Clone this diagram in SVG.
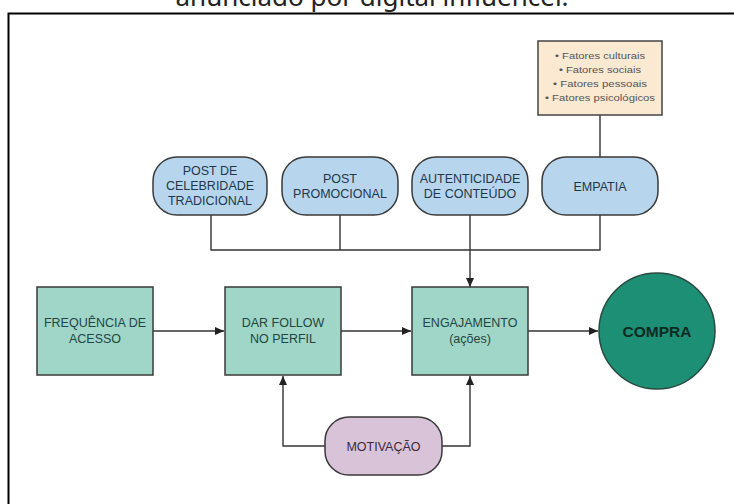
<svg xmlns="http://www.w3.org/2000/svg" width="734" height="504" viewBox="0 0 734 504">
<style>
.lbl{font-family:"Liberation Sans",Arial,sans-serif;font-size:12.5px;text-anchor:middle}
.blue{fill:#b7d6ee;stroke:#3a3a3a;stroke-width:1.5}
.green{fill:#9fd6c7;stroke:#3a3a3a;stroke-width:1.5}
.btxt{fill:#22364a}
.gtxt{fill:#234543}
.conn{fill:none;stroke:#333;stroke-width:1.4}
.fac{font-family:"Liberation Sans",Arial,sans-serif;font-size:9px;text-anchor:middle;fill:#555}
</style>
<defs>
<marker id="arr" markerWidth="10" markerHeight="8" refX="9" refY="4" orient="auto" markerUnits="userSpaceOnUse">
<path d="M0,0 L9,4 L0,8 Z" fill="#222"/>
</marker>
</defs>
<rect width="734" height="504" fill="#ffffff"/>
<text x="372" y="6" font-family="'Noto Sans','Open Sans',sans-serif" font-size="26" text-anchor="middle" fill="#222">anunciado por digital influencer.</text>
<rect x="8.5" y="13.5" width="760" height="540" fill="none" stroke="#000" stroke-width="2"/>

<g id="connectors">
<path class="conn" d="M600 115 V157"/>
<path class="conn" d="M211 215 V250 H600 V215"/>
<path class="conn" d="M340 215 V250"/>
<path class="conn" d="M470 215 V287" marker-end="url(#arr)"/>
<path class="conn" d="M153 331 H224" marker-end="url(#arr)"/>
<path class="conn" d="M341 331 H411" marker-end="url(#arr)"/>
<path class="conn" d="M528 331 H598" marker-end="url(#arr)"/>
<path class="conn" d="M325 446 H283 V376" marker-end="url(#arr)"/>
<path class="conn" d="M442 446 H470 V376" marker-end="url(#arr)"/>
</g>

<g id="fatores">
<rect x="538" y="41" width="124" height="74" fill="#fbe9d2" stroke="#444" stroke-width="1.5"/>
<text class="fac" x="600" y="59" textLength="90" lengthAdjust="spacingAndGlyphs">• Fatores culturais</text>
<text class="fac" x="600" y="72.5" textLength="82" lengthAdjust="spacingAndGlyphs">• Fatores sociais</text>
<text class="fac" x="600" y="86.5" textLength="94" lengthAdjust="spacingAndGlyphs">• Fatores pessoais</text>
<text class="fac" x="600" y="100.5" textLength="110" lengthAdjust="spacingAndGlyphs">• Fatores psicológicos</text>
</g>

<g id="post-celebridade">
<rect class="blue" x="153" y="157" width="114" height="58" rx="24" ry="24"/>
<text class="lbl btxt" x="210" y="174.5">POST DE</text>
<text class="lbl btxt" x="210" y="189.5">CELEBRIDADE</text>
<text class="lbl btxt" x="210" y="204.5">TRADICIONAL</text>
</g>
<g id="post-promocional">
<rect class="blue" x="282" y="157" width="116" height="58" rx="24" ry="24"/>
<text class="lbl btxt" x="340" y="182.5">POST</text>
<text class="lbl btxt" x="340" y="197.5">PROMOCIONAL</text>
</g>
<g id="autenticidade">
<rect class="blue" x="412" y="157" width="116" height="58" rx="24" ry="24"/>
<text class="lbl btxt" x="470" y="182.5">AUTENTICIDADE</text>
<text class="lbl btxt" x="470" y="197.5">DE CONTEÚDO</text>
</g>
<g id="empatia">
<rect class="blue" x="542" y="157" width="116" height="58" rx="24" ry="24"/>
<text class="lbl btxt" x="600" y="190.5">EMPATIA</text>
</g>

<g id="frequencia">
<rect class="green" x="37" y="287" width="116" height="88"/>
<text class="lbl gtxt" x="95" y="327">FREQUÊNCIA DE</text>
<text class="lbl gtxt" x="95" y="343">ACESSO</text>
</g>
<g id="dar-follow">
<rect class="green" x="225" y="287" width="116" height="88"/>
<text class="lbl gtxt" x="283" y="327">DAR FOLLOW</text>
<text class="lbl gtxt" x="283" y="343">NO PERFIL</text>
</g>
<g id="engajamento">
<rect class="green" x="412" y="287" width="116" height="88"/>
<text class="lbl gtxt" x="470" y="327">ENGAJAMENTO</text>
<text class="lbl gtxt" x="470" y="343">(ações)</text>
</g>
<g id="compra">
<ellipse cx="657" cy="331" rx="58" ry="58" fill="#1c8f74" stroke="#2a4a40" stroke-width="1.5"/>
<text x="657" y="336.5" font-family="'Liberation Sans',Arial,sans-serif" font-size="15.5" font-weight="bold" text-anchor="middle" fill="#0f2a23">COMPRA</text>
</g>
<g id="motivacao">
<rect x="325" y="417" width="117" height="58" rx="24" ry="24" fill="#d9c3d9" stroke="#3a3a3a" stroke-width="1.5"/>
<text class="lbl" x="383.5" y="450.5" fill="#3a2a3a">MOTIVAÇÃO</text>
</g>
</svg>
